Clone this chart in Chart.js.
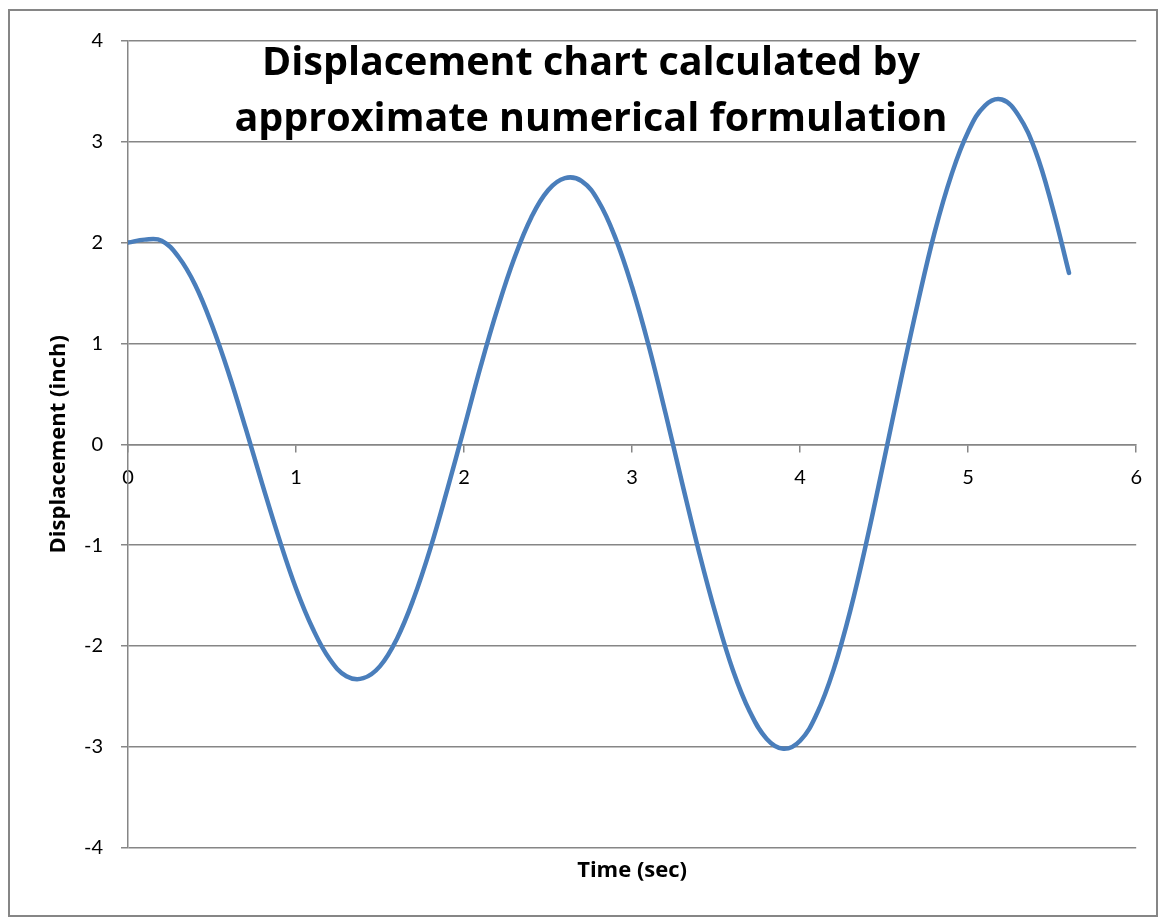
<!DOCTYPE html>
<html><head><meta charset="utf-8">
<script src="https://cdn.jsdelivr.net/npm/chart.js@4"></script>
<style>
html,body{margin:0;padding:0;background:#fff;}
#frame{position:absolute;left:8px;top:9px;width:1146px;height:904px;border:2px solid #868686;background:#fff;}
#frame canvas{display:block}
</style></head><body>
<div id="frame"><canvas id="c" width="1146" height="904"></canvas></div>
<script>
const timeSec = [0.0,0.1,0.2,0.3,0.4,0.5,0.6,0.7,0.8,0.9,1.0,1.1,1.2,1.3,1.4,1.5,1.6,1.7,1.8,1.9,2.0,2.1,2.2,2.3,2.4,2.5,2.6,2.7,2.8,2.9,3.0,3.1,3.2,3.3,3.4,3.5,3.6,3.7,3.8,3.9,4.0,4.1,4.2,4.3,4.4,4.5,4.6,4.7,4.8,4.9,5.0,5.1,5.2,5.3,5.4,5.5,5.6];
const displacementInch = [2.00,2.03,2.02,1.86,1.58,1.18,0.70,0.16,-0.40,-0.94,-1.43,-1.83,-2.13,-2.30,-2.32,-2.20,-1.93,-1.53,-1.03,-0.45,0.16,0.78,1.35,1.85,2.25,2.52,2.64,2.61,2.41,2.05,1.56,0.97,0.30,-0.40,-1.08,-1.70,-2.24,-2.65,-2.92,-3.02,-2.94,-2.67,-2.23,-1.64,-0.93,-0.15,0.64,1.40,2.10,2.67,3.10,3.36,3.42,3.26,2.91,2.36,1.70];
const xTickValues = [0,1,2,3,4,5,6];
const yTickValues = [-4,-3,-2,-1,0,1,2,3,4];
const chartTitleLines = ["Displacement chart calculated by", "approximate numerical formulation"];
const xAxisTitle = "Time (sec)";
const yAxisTitle = "Displacement (inch)";

const FONT = 'Lato, "Open Sans", "DejaVu Sans", sans-serif';
const TFONT = '"Open Sans", Lato, "DejaVu Sans", sans-serif';
const GRID = '#868686';

const points = timeSec.map((t, i) => ({x: t, y: displacementInch[i]}));

const overlayTitle = {
  id: 'overlayTitle',
  afterDraw(chart) {
    const ctx = chart.ctx;
    ctx.save();
    ctx.font = 'bold 39.5px ' + TFONT;
    ctx.fillStyle = '#000';
    ctx.textAlign = 'center';
    ctx.textBaseline = 'alphabetic';
    ctx.fillText(chartTitleLines[0], 581, 64);
    ctx.fillText(chartTitleLines[1], 581, 120);
    ctx.restore();
  }
};

new Chart(document.getElementById('c'), {
  type: 'scatter',
  data: {
    datasets: [{
      data: points,
      showLine: true,
      borderColor: '#4a7ebb',
      backgroundColor: '#4a7ebb',
      borderWidth: 4.5,
      borderCapStyle: 'round',
      borderJoinStyle: 'round',
      pointRadius: 0,
      tension: 0.4,
      xAxisID: 'x',
      yAxisID: 'y'
    }]
  },
  options: {
    responsive: false,
    animation: false,
    events: [],
    layout: {padding: {top: 26, right: 17, left: 0, bottom: 0}},
    plugins: {legend: {display: false}, tooltip: {enabled: false}, title: {display: false}},
    scales: {
      x: {
        type: 'linear',
        min: 0, max: 6,
        position: {y: 0},
        afterBuildTicks: s => { s.ticks = xTickValues.map(v => ({value: v})); },
        grid: {drawOnChartArea: false, drawTicks: true, tickLength: 7, color: GRID, lineWidth: 1.5},
        border: {display: true, color: GRID, width: 1.5},
        ticks: {color: '#000', font: {family: FONT, size: 20}, padding: 14, maxRotation: 0}
      },
      x2: {
        type: 'linear',
        min: 0, max: 6,
        position: 'bottom',
        grid: {display: false, drawTicks: false},
        border: {display: false},
        ticks: {display: false},
        title: {display: true, text: xAxisTitle, color: '#000', font: {family: TFONT, size: 22, weight: 'bold'}, padding: {top: 10, bottom: 31}}
      },
      y: {
        type: 'linear',
        min: -4, max: 4,
        position: 'left',
        afterBuildTicks: s => { s.ticks = yTickValues.map(v => ({value: v})); },
        afterFit: s => { s.width = 118; },
        grid: {drawOnChartArea: true, drawTicks: true, tickLength: 7, color: GRID, lineWidth: 1.5},
        border: {display: true, color: GRID, width: 1.5},
        ticks: {color: '#000', font: {family: FONT, size: 20}, padding: 18},
        title: {display: true, text: yAxisTitle, color: '#000', font: {family: TFONT, size: 22, weight: 'bold'}, padding: {top: 36, bottom: 0}}
      }
    }
  },
  plugins: [overlayTitle]
});
</script>
</body></html>
